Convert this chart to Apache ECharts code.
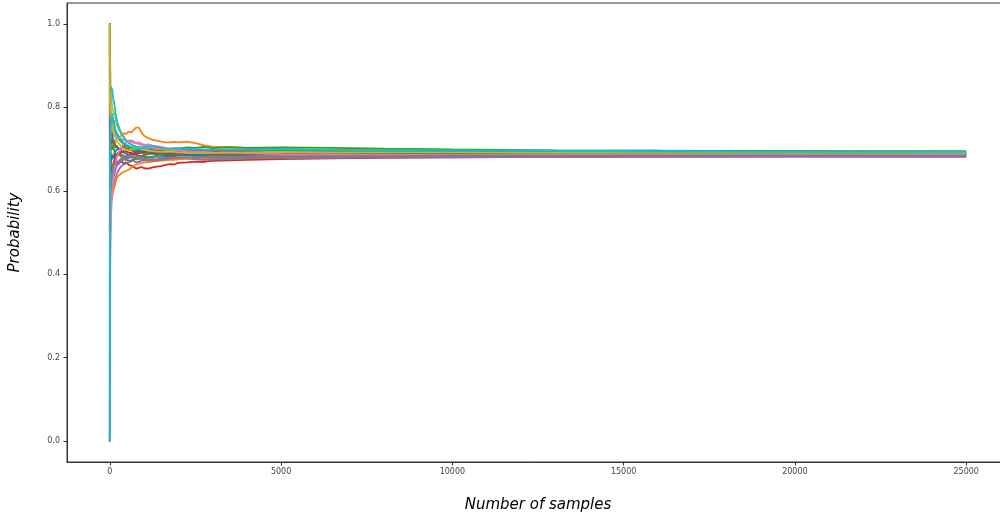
<!DOCTYPE html>
<html>
<head>
<meta charset="utf-8">
<script src="https://cdn.jsdelivr.net/npm/echarts@6/dist/echarts.min.js"></script>
<style>
  html, body { margin: 0; padding: 0; background: #fff; }
  #chart { width: 1000px; height: 518px; }
</style>
</head>
<body>
<div id="chart"></div>
<script>
// Running estimate of the probability after n samples, for 20 independent runs.
const sampleCounts = [1, 2, 3, 5, 10, 20, 40, 70,
  100, 125, 150, 175, 200, 250, 300, 350, 400, 475, 550, 625, 700, 775, 850, 925, 1000,
  1125, 1250, 1375, 1500, 1625, 1750, 1875, 2000, 2250, 2500, 2750, 3000, 3500, 4000,
  5000, 6500, 8000, 10000, 13000, 16000, 20000, 25000];

const run01 = [1, 1, .667, .8, .7, .75, .725, .743,
  .711, .722, .718, .703, .708, .702, .696, .704, .700, .709, .706, .698, .700, .697, .694, .699, .697,
  .701, .698, .696, .694, .692, .691, .693, .694, .697, .696, .698, .696, .694, .693,
  .691, .693, .693, .691, .690, .691, .691, .690];
const run02 = [1, 1, 1, .8, .8, .75, .7, .714,
  .700, .712, .720, .716, .725, .728, .730, .733, .738, .736, .742, .740, .746, .752, .751, .740, .732,
  .726, .722, .720, .718, .716, .716, .717, .716, .718, .714, .709, .706, .705, .703,
  .700, .698, .697, .696, .694, .693, .692, .692];
const run03 = [1, .5, .667, .8, .8, .8, .775, .771,
  .760, .768, .745, .741, .735, .726, .720, .716, .712, .708, .705, .703, .700, .696, .698, .701, .700,
  .704, .702, .700, .699, .701, .700, .702, .701, .704, .703, .705, .702, .704, .703,
  .704, .703, .701, .699, .697, .696, .695, .694];
const run04 = [0, .5, .667, .6, .7, .65, .625, .657,
  .660, .672, .680, .676, .670, .664, .668, .671, .665, .668, .662, .660, .657, .653, .655, .657, .654,
  .653, .656, .658, .659, .662, .664, .663, .667, .668, .670, .669, .672, .673, .674,
  .676, .678, .679, .680, .681, .682, .683, .683];
const run05 = [1, .5, .333, .4, .5, .55, .575, .6,
  .610, .618, .625, .633, .640, .648, .655, .660, .662, .666, .668, .671, .672, .668, .670, .672, .673,
  .675, .676, .674, .675, .676, .677, .679, .678, .677, .676, .675, .677, .678, .679,
  .678, .679, .680, .680, .681, .681, .681, .681];
const run06 = [0, 0, .333, .6, .6, .65, .675, .686,
  .690, .684, .680, .686, .685, .692, .690, .686, .682, .680, .685, .690, .688, .686, .684, .683, .686,
  .688, .689, .690, .687, .686, .685, .684, .686, .687, .688, .686, .687, .686, .685,
  .686, .687, .688, .687, .688, .687, .687, .688];
const run07 = [1, 1, .667, .8, .9, .8, .775, .757,
  .750, .742, .735, .731, .728, .730, .725, .723, .722, .719, .720, .721, .718, .714, .716, .713, .710,
  .711, .708, .707, .705, .703, .702, .700, .698, .697, .695, .696, .694, .693, .693,
  .692, .690, .689, .690, .689, .689, .688, .688];
const run08 = [0, 0, 0, .2, .4, .55, .6, .629,
  .640, .652, .660, .664, .665, .670, .672, .675, .676, .678, .680, .681, .678, .675, .676, .678, .679,
  .681, .682, .681, .680, .679, .678, .676, .677, .678, .676, .674, .675, .676, .677,
  .679, .680, .681, .682, .683, .684, .684, .685];
const run09 = [1, 1, 1, 1, .9, .85, .825, .8,
  .790, .786, .780, .768, .760, .748, .740, .733, .728, .720, .715, .711, .708, .704, .703, .702, .700,
  .698, .697, .699, .698, .697, .696, .695, .694, .694, .693, .692, .692, .691, .690,
  .689, .690, .691, .690, .690, .690, .690, .690];
const run10 = [1, .5, .333, .6, .8, .85, .85, .843,
  .820, .812, .800, .782, .770, .756, .745, .736, .730, .721, .715, .711, .708, .706, .705, .704, .703,
  .701, .700, .703, .702, .701, .700, .699, .699, .701, .700, .699, .698, .697, .697,
  .698, .697, .697, .697, .696, .696, .695, .695];
const run11 = [0, .5, .667, .6, .6, .7, .675, .671,
  .680, .688, .690, .696, .700, .702, .697, .694, .692, .689, .686, .688, .690, .693, .695, .694, .693,
  .691, .689, .686, .684, .683, .682, .683, .684, .685, .686, .685, .684, .683, .683,
  .684, .685, .686, .686, .686, .686, .686, .686];
const run12 = [1, .5, .667, .4, .5, .55, .575, .586,
  .600, .604, .615, .624, .630, .636, .640, .643, .645, .648, .650, .655, .660, .663, .665, .667, .668,
  .669, .670, .671, .672, .673, .674, .674, .675, .677, .678, .679, .680, .681, .682,
  .683, .684, .686, .687, .688, .689, .689, .689];
const run13 = [1, 1, .667, .6, .7, .7, .7, .7,
  .710, .698, .690, .684, .680, .688, .685, .680, .676, .674, .672, .673, .675, .678, .680, .682, .683,
  .680, .681, .684, .686, .688, .689, .690, .691, .690, .690, .691, .692, .693, .694,
  .695, .694, .694, .693, .693, .694, .694, .694];
const run14 = [1, .5, .333, .4, .6, .65, .65, .643,
  .650, .664, .675, .680, .685, .688, .690, .693, .695, .694, .692, .690, .688, .689, .690, .692, .694,
  .696, .697, .696, .695, .694, .693, .694, .696, .698, .697, .696, .695, .694, .694,
  .692, .692, .691, .690, .689, .688, .688, .687];
const run15 = [0, .5, .333, .6, .5, .6, .625, .614,
  .630, .638, .645, .654, .660, .664, .668, .671, .674, .676, .678, .680, .682, .681, .680, .678, .677,
  .676, .675, .676, .678, .679, .680, .680, .679, .680, .681, .682, .683, .682, .682,
  .681, .682, .683, .683, .683, .683, .683, .682];
const run16 = [1, 1, .667, .8, .7, .7, .725, .714,
  .720, .716, .710, .707, .705, .702, .700, .703, .705, .702, .700, .697, .695, .693, .692, .691, .690,
  .692, .693, .692, .691, .689, .688, .688, .689, .690, .691, .690, .690, .689, .688,
  .689, .689, .690, .689, .689, .689, .689, .689];
const run17 = [0, 0, .333, .4, .4, .5, .55, .6,
  .640, .652, .660, .672, .680, .690, .700, .706, .712, .715, .718, .717, .715, .714, .712, .710, .708,
  .705, .703, .701, .700, .700, .699, .698, .697, .695, .694, .693, .692, .691, .690,
  .688, .687, .686, .686, .686, .686, .686, .686];
const run18 = [0, .5, .667, .6, .6, .6, .625, .643,
  .660, .666, .670, .667, .665, .670, .675, .678, .680, .683, .685, .684, .683, .680, .678, .676, .675,
  .673, .672, .673, .674, .676, .677, .679, .680, .680, .679, .680, .681, .681, .680,
  .682, .683, .683, .684, .684, .684, .684, .684];
const run19 = [1, 1, 1, .8, .8, .8, .75, .757,
  .740, .735, .730, .725, .720, .714, .710, .705, .700, .698, .697, .699, .700, .701, .702, .700, .698,
  .696, .695, .694, .693, .693, .694, .693, .692, .691, .690, .690, .691, .692, .692,
  .693, .692, .692, .692, .691, .691, .691, .691];
const run20 = [0, .5, .333, .6, .7, .75, .775, .786,
  .770, .760, .750, .745, .740, .732, .725, .720, .715, .711, .708, .705, .703, .701, .700, .703, .705,
  .707, .707, .705, .703, .701, .700, .701, .702, .700, .699, .698, .698, .699, .699,
  .700, .698, .697, .696, .695, .694, .693, .693];

const runs = [run01, run02, run03, run04, run05, run06, run07, run08, run09, run10,
  run11, run12, run13, run14, run15, run16, run17, run18, run19, run20];

const xTicks = [0, 5000, 10000, 15000, 20000, 25000];
const yTicks = [0.0, 0.2, 0.4, 0.6, 0.8, 1.0];

// matplotlib "tab10" cycle
const palette = ['#1f77b4', '#ff7f0e', '#2ca02c', '#d62728', '#9467bd',
  '#8c564b', '#e377c2', '#7f7f7f', '#bcbd22', '#17becf'];

const chart = echarts.init(document.getElementById('chart'), null, { renderer: 'canvas' });

const tickLabel = { fontFamily: 'DejaVu Sans', fontSize: 8, color: '#444' };
const titleFont = { fontFamily: 'DejaVu Sans', fontSize: 15, fontStyle: 'italic', color: '#000' };

chart.setOption({
  animation: false,
  color: palette,
  grid: {
    left: 67, top: 3, width: 942, height: 459,
    containLabel: false,
    outerBoundsMode: 'none',
    show: true, borderColor: '#333', borderWidth: 1, backgroundColor: 'transparent'
  },
  xAxis: {
    type: 'value',
    min: -1250, max: 26250,
    name: 'Number of samples',
    nameLocation: 'middle',
    nameGap: 36,
    nameTextStyle: titleFont,
    axisLine: { show: true, onZero: false, lineStyle: { color: '#333', width: 1 } },
    axisTick: { show: true, length: 3.5, lineStyle: { color: '#333' }, customValues: xTicks },
    axisLabel: Object.assign({ margin: 6, customValues: xTicks, formatter: v => String(v) }, tickLabel),
    splitLine: { show: false }
  },
  yAxis: {
    type: 'value',
    min: -0.05, max: 1.05,
    name: 'Probability',
    nameLocation: 'middle',
    nameGap: 44,
    nameRotate: 90,
    nameTextStyle: titleFont,
    axisLine: { show: true, onZero: false, lineStyle: { color: '#333', width: 1 } },
    axisTick: { show: true, length: 3.5, lineStyle: { color: '#333' }, customValues: yTicks },
    axisLabel: Object.assign({ margin: 7, customValues: yTicks, formatter: v => v.toFixed(1) }, tickLabel),
    splitLine: { show: false }
  },
  series: runs.map((vals, i) => ({
    name: 'run ' + (i + 1),
    type: 'line',
    showSymbol: false,
    symbol: 'none',
    lineStyle: { width: 1.8 },
    data: vals.map((v, j) => [sampleCounts[j], v])
  }))
});
</script>
</body>
</html>
